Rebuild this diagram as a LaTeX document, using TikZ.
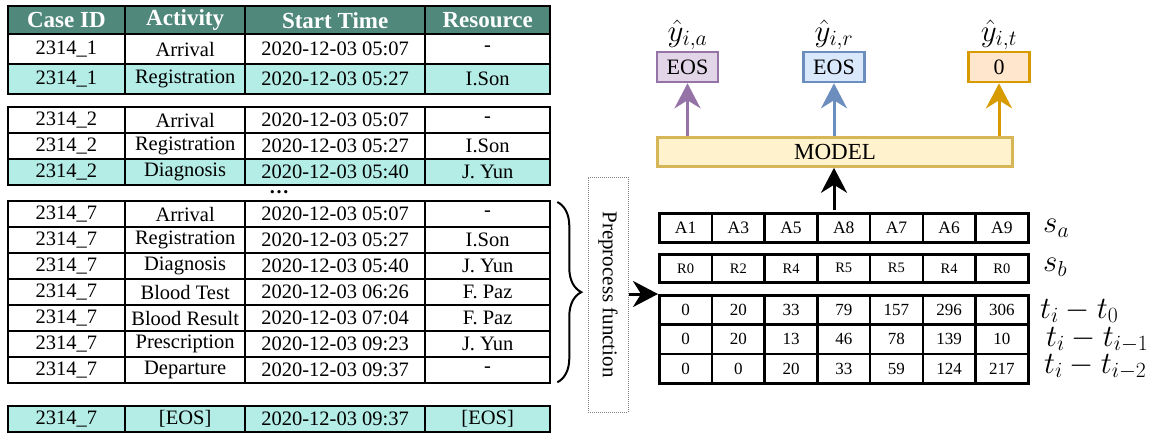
\RequirePackage{fix-cm}
\documentclass[tikz,border=0pt]{standalone}
\usepackage{fontspec}
\setmainfont{Liberation Serif}
\usetikzlibrary{arrows.meta,decorations.pathreplacing}
\definecolor{hdr}{RGB}{80,136,124}
\definecolor{cyanrow}{RGB}{180,236,230}
\definecolor{purpf}{HTML}{E1D5E7}\definecolor{purpd}{HTML}{9673A6}
\definecolor{bluef}{HTML}{DAE8FC}\definecolor{blued}{HTML}{6C8EBF}
\definecolor{orf}{HTML}{FFE6CC}\definecolor{ord}{HTML}{D79B00}
\definecolor{yelf}{HTML}{FFF2CC}\definecolor{yeld}{HTML}{D6B656}
\tikzset{
 cell/.style={draw=black,line width=2.3pt,inner sep=0pt,anchor=north west,font=\fontsize{20.5}{24}\selectfont},
 hcell/.style={cell,fill=hdr,text=white,font=\fontsize{23}{26}\selectfont\bfseries},
 rcell/.style={draw=black,line width=2.6pt,inner sep=0pt,anchor=north west,minimum width=52.7pt},
 outbox/.style={line width=2.6pt,inner sep=0pt,minimum width=61pt,minimum height=30pt,font=\fontsize{22}{24}\selectfont},
 mlabel/.style={font=\fontsize{31}{34}\selectfont,inner sep=0pt},
 bigarrow/.style={line width=3pt,-{Stealth[length=25pt,width=26pt,inset=8pt]}}
}
\newcommand\trow[8]{%
 \node[cell,fill=#4,minimum width=117.5pt,minimum height=#3pt] (#1a) at (6.5,#2) {#5};
 \node[cell,fill=#4,minimum width=120pt,minimum height=#3pt] (#1b) at (124,#2) {#6};
 \node[cell,fill=#4,minimum width=180pt,minimum height=#3pt] (#1c) at (244,#2) {#7};
 \node[cell,fill=#4,minimum width=125pt,minimum height=#3pt] (#1d) at (424,#2) {#8};}
\begin{document}
\begin{tikzpicture}[x=1pt,y=-1pt]
\useasboundingbox[fill=white] (0,0) rectangle (1165,434);
% header
\node[hcell,minimum width=117.5pt,minimum height=28pt] (ha) at (6.5,5) {Case ID};
\node[hcell,minimum width=120pt,minimum height=28pt] (hb) at (124,5) {Activity};
\node[hcell,minimum width=180pt,minimum height=28pt] (hc) at (244,5) {Start Time};
\node[hcell,minimum width=125pt,minimum height=28pt] (hd) at (424,5) {Resource};
% group 1
\trow{ga1}{33}{30}{white}{2314\_1}{Arrival}{2020-12-03 05:07}{-}
\trow{ga2}{63}{30}{cyanrow}{2314\_1}{Registration}{2020-12-03 05:27}{I.Son}
% group 2
\trow{gb1}{106}{26}{white}{2314\_2}{Arrival}{2020-12-03 05:07}{-}
\trow{gb2}{132}{26}{white}{2314\_2}{Registration}{2020-12-03 05:27}{I.Son}
\trow{gb3}{158}{26}{cyanrow}{2314\_2}{Diagnosis}{2020-12-03 05:40}{J. Yun}
\node[font=\fontsize{20}{22}\selectfont\bfseries,inner sep=0pt,text height=3pt,text depth=0pt] (dots) at (279,192) {\ldots};
% group 3
\trow{gc1}{200}{26}{white}{2314\_7}{Arrival}{2020-12-03 05:07}{-}
\trow{gc2}{226}{26}{white}{2314\_7}{Registration}{2020-12-03 05:27}{I.Son}
\trow{gc3}{252}{26}{white}{2314\_7}{Diagnosis}{2020-12-03 05:40}{J. Yun}
\trow{gc4}{278}{26}{white}{2314\_7}{Blood Test}{2020-12-03 06:26}{F. Paz}
\trow{gc5}{304}{26}{white}{2314\_7}{Blood Result}{2020-12-03 07:04}{F. Paz}
\trow{gc6}{330}{26}{white}{2314\_7}{Prescription}{2020-12-03 09:23}{J. Yun}
\trow{gc7}{356}{26}{white}{2314\_7}{Departure}{2020-12-03 09:37}{-}
% EOS row
\trow{ge}{405}{26}{cyanrow}{2314\_7}{[EOS]}{2020-12-03 09:37}{[EOS]}
% brace
\draw[decorate,decoration={brace,amplitude=24pt},line width=2pt]
  ([xshift=6pt,yshift=-2pt]gc1d.north east) -- ([xshift=6pt,yshift=2pt]gc7d.south east);
% preprocess box
\node[draw=gray,densely dotted,line width=1pt,rotate=-90,minimum width=235pt,minimum height=40pt,inner sep=0pt,font=\fontsize{21}{23}\selectfont] (pp) at (608,294.5) {Preprocess function};
\coordinate (ppr) at (628.5,294);
% right tables
\foreach \v [count=\i from 0] in {A1,A3,A5,A8,A7,A6,A9}
  \node[rcell,minimum height=29pt,font=\fontsize{17.5}{20}\selectfont] (sa\i) at ({658+52.7*\i},212) {\v};
\foreach \v [count=\i from 0] in {R0,R2,R4,R5,R5,R4,R0}
  \node[rcell,minimum height=28pt,font=\fontsize{14.5}{17}\selectfont] (sb\i) at ({658+52.7*\i},253) {\v};
\foreach \v [count=\i from 0] in {0,20,33,79,157,296,306}
  \node[rcell,minimum height=29.3pt,font=\fontsize{17}{20}\selectfont] (ta\i) at ({658+52.7*\i},294) {\v};
\foreach \v [count=\i from 0] in {0,20,13,46,78,139,10}
  \node[rcell,minimum height=29.3pt,font=\fontsize{17}{20}\selectfont] (tb\i) at ({658+52.7*\i},323.3) {\v};
\foreach \v [count=\i from 0] in {0,0,20,33,59,124,217}
  \node[rcell,minimum height=29.3pt,font=\fontsize{17}{20}\selectfont] (tc\i) at ({658+52.7*\i},352.6) {\v};
% row labels
\node[mlabel,anchor=west] (lsa) at (1043,228) {$s_a$};
\node[mlabel,anchor=west] (lsb) at (1043,267) {$s_b$};
\node[mlabel,anchor=west] (lta) at (1040,311) {$t_i - t_0$};
\node[mlabel,anchor=west] (ltb) at (1046,340) {$t_i - t_{i-1}$};
\node[mlabel,anchor=west] (ltc) at (1044,367) {$t_i - t_{i-2}$};
% model and outputs
\node[draw=yeld,fill=yelf,line width=2.6pt,minimum width=355pt,minimum height=29pt,inner sep=0pt,font=\fontsize{23}{25}\selectfont] (model) at (835,152) {MODEL};
\node[outbox,draw=purpd,fill=purpf] (pa) at (687.5,67) {EOS};
\node[outbox,draw=blued,fill=bluef] (pr) at (834,67) {EOS};
\node[outbox,draw=ord,fill=orf] (pt) at (999,67) {0};
\node[mlabel] (ya) at (687.5,35) {$\hat{y}_{i,a}$};
\node[mlabel] (yr) at (834,35) {$\hat{y}_{i,r}$};
\node[mlabel] (yt) at (999,35) {$\hat{y}_{i,t}$};
% arrows
\draw[bigarrow,draw=purpd,fill=purpd] (model.north -| pa.south) -- (pa.south);
\draw[bigarrow,draw=blued,fill=blued] (model.north -| pr.south) -- (pr.south);
\draw[bigarrow,draw=ord,fill=ord] (model.north -| pt.south) -- (pt.south);
\coordinate (bs) at (834,210);
\draw[bigarrow] (bs) -- (bs |- model.south);
\draw[bigarrow] (ppr) -- (ta0.north west);
\end{tikzpicture}
\end{document}
